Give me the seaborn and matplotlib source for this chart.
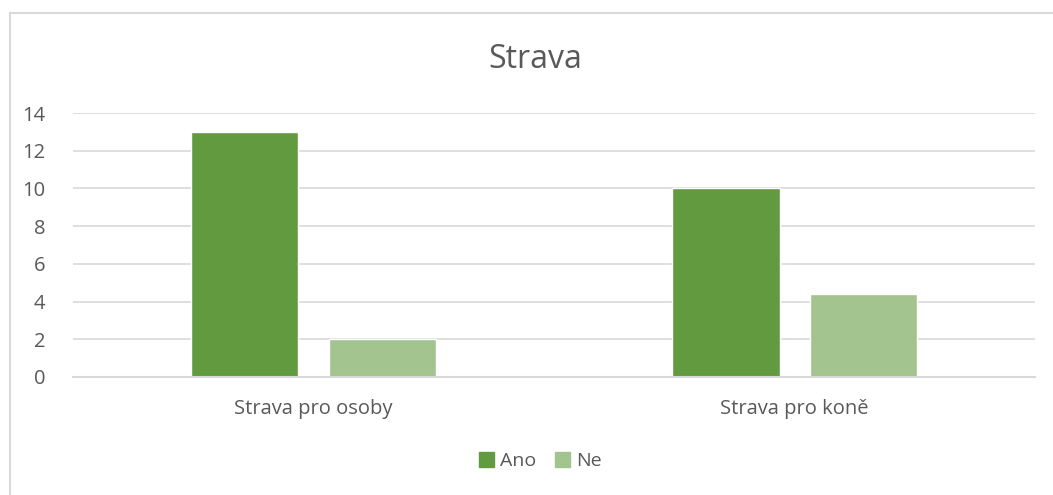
import matplotlib
matplotlib.use("Agg")
import matplotlib.pyplot as plt
import seaborn as sns
import pandas as pd
from matplotlib.patches import Rectangle

sns.set_style("white")
plt.rcParams['font.family'] = ['Open Sans', 'DejaVu Sans']

# Data
categories = ["Strava pro osoby", "Strava pro koně"]
series = ["Ano", "Ne"]
ano_values = [13, 10]
ne_values = [2, 4.4]
colors = {"Ano": "#629B3F", "Ne": "#A3C48F"}

df = pd.DataFrame({
    "kategorie": categories * 2,
    "odpoved": ["Ano"] * len(categories) + ["Ne"] * len(categories),
    "pocet": ano_values + ne_values,
})

fig = plt.figure(figsize=(10.53, 4.95), dpi=100)
ax = fig.add_axes([0.0693, 0.2384, 0.9137, 0.5333])

sns.barplot(data=df, x="kategorie", y="pocet", hue="odpoved",
            palette=colors, width=0.57, gap=0.219, ax=ax,
            order=categories, hue_order=series, saturation=1, legend=False)

ax.set_ylim(0, 14)
ax.set_yticks(range(0, 15, 2))
ax.yaxis.grid(True, color="#D9D9D9", linewidth=1.2)
ax.set_axisbelow(True)
for s in ["top", "right", "left"]:
    ax.spines[s].set_visible(False)
ax.spines["bottom"].set_color("#D9D9D9")
ax.spines["bottom"].set_linewidth(1.5)
ax.tick_params(axis="both", length=0, labelsize=14.5, colors="#595959")
ax.tick_params(axis="x", pad=16)
ax.tick_params(axis="y", pad=20)
ax.set_xlabel("")
ax.set_ylabel("")

fig.text(0.508, 0.88, "Strava", ha="center", va="center", fontsize=23, color="#595959")

handles = [Rectangle((0, 0), 1, 1, color=colors[s]) for s in series]
fig.legend(handles, series, loc="center", bbox_to_anchor=(0.513, 0.068), ncol=2,
           frameon=False, fontsize=14, handlelength=0.75, handleheight=0.75,
           handletextpad=0.3, columnspacing=1.0, labelcolor="#595959")

# chart frame, running off the right and bottom edges as in the original
fig.patches.append(Rectangle((9.5 / 1053, -20 / 495), 1100 / 1053, (495 - 13 + 20) / 495,
                             transform=fig.transFigure, fill=False,
                             edgecolor="#D9D9D9", linewidth=1.5))

fig.savefig("out.png", dpi=100)
